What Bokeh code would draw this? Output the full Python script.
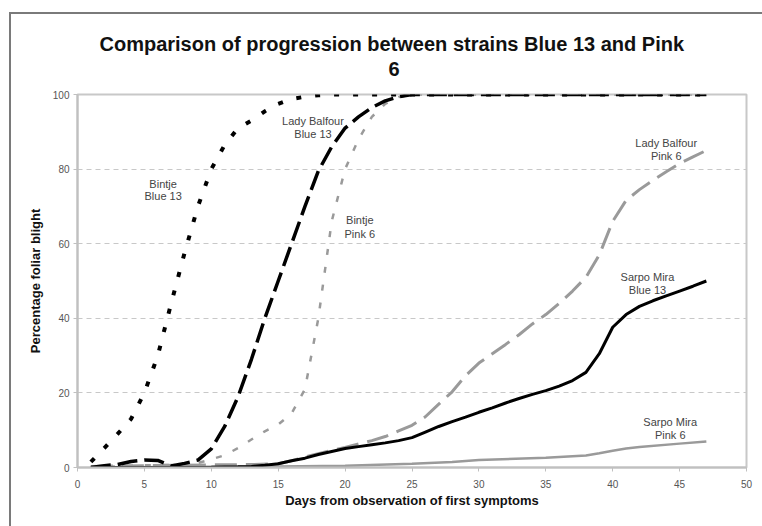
from bokeh.plotting import figure
from bokeh.models import Range1d, FixedTicker, ColumnDataSource
from bokeh.core.properties import value
from bokeh.embed import file_html
from bokeh.resources import INLINE

# ---------------- data ----------------
bintje_b13_days = [1, 2, 3, 4, 5, 6, 7, 8, 9, 10, 11, 12, 13, 14, 15, 16, 17, 18, 19, 20, 25, 30, 35, 40, 47]
bintje_b13_vals = [1.5, 5.2, 9, 13, 20, 30, 44, 57.5, 70, 80, 86.5, 91, 93, 95.5, 97.5, 98.8, 99.4, 99.8, 100, 100, 100, 100, 100, 100, 100]

lady_b13_days = [1, 2, 3, 4, 5, 6, 7, 8, 9, 10, 11, 12, 13, 14, 15, 16, 17, 18, 19, 20, 21, 22, 23, 24, 25, 30, 35, 40, 47]
lady_b13_vals = [0, 0.5, 0.8, 1.6, 2, 1.9, 0.4, 1.1, 2, 5, 11, 19, 29, 40, 50, 60, 70, 79.5, 86, 91, 94, 96.5, 98.3, 99.4, 100, 100, 100, 100, 100]

bintje_p6_days = [1, 2, 3, 4, 5, 6, 7, 8, 9, 10, 11, 12, 13, 14, 15, 16, 17, 18, 19, 20, 21, 22, 23, 24, 25, 30, 35, 40, 47]
bintje_p6_vals = [0, 0.2, 0.3, 0.5, 0.6, 0.6, 0.7, 0.8, 1.2, 2.2, 3.3, 5.2, 7.5, 9.7, 11.5, 14.5, 21, 40, 66, 80, 88, 94, 97.5, 99.3, 100, 100, 100, 100, 100]

lady_p6_days = [1, 5, 10, 13, 15, 16, 17, 18, 19, 20, 21, 22, 23, 24, 25, 26, 27, 28, 29, 30, 31, 32, 33, 34, 35,
                36, 37, 38, 39, 40, 41, 42, 43, 44, 45, 46, 47]
lady_p6_vals = [0.3, 0.5, 0.7, 0.8, 1, 1.8, 2.8, 3.7, 4.6, 5.4, 6.3, 7.2, 8.3, 9.8, 11.3, 13.6, 17, 20.3, 24.6, 28, 30.5,
                33, 35.6, 38.5, 41, 44, 47.3, 51, 57, 66, 71.6, 74.5, 77, 79.3, 81.5, 83.3, 85]

sarpo_b13_days = [1, 5, 10, 12, 13, 14, 15, 16, 17, 18, 19, 20, 21, 22, 23, 24, 25, 26, 27, 28, 29, 30, 31, 32, 33, 34,
                  35, 36, 37, 38, 39, 40, 41, 42, 43, 44, 45, 46, 47]
sarpo_b13_vals = [0, 0, 0.1, 0.2, 0.3, 0.6, 1, 1.8, 2.5, 3.5, 4.3, 5.1, 5.6, 6.1, 6.6, 7.2, 8, 9.5, 11, 12.3, 13.5, 14.8,
                  16, 17.3, 18.5, 19.6, 20.6, 21.8, 23.3, 25.5, 30.5, 37.6, 41, 43.2, 44.7, 46, 47.3, 48.6, 50]

sarpo_p6_days = [1, 10, 15, 20, 25, 28, 30, 35, 38, 39, 40, 41, 42, 45, 47]
sarpo_p6_vals = [0, 0.2, 0.3, 0.5, 1, 1.5, 2, 2.6, 3.2, 3.8, 4.5, 5.1, 5.5, 6.4, 7]

label_line1 = ["Bintje", "Lady Balfour", "Bintje", "Lady Balfour", "Sarpo Mira", "Sarpo Mira"]
label_line2 = ["Blue 13", "Blue 13", "Pink 6", "Pink 6", "Blue 13", "Pink 6"]
label_x = [6.4, 17.6, 21.1, 44.0, 42.6, 44.3]
label_y1 = [76.1, 92.8, 66.4, 87.1, 51.2, 12.1]
label_y2 = [72.7, 89.3, 62.6, 83.6, 47.5, 8.6]

x_ticks = [0, 5, 10, 15, 20, 25, 30, 35, 40, 45, 50]
y_ticks = [0, 20, 40, 60, 80, 100]

title_line1 = "Comparison of progression between strains Blue 13 and Pink"
title_line2 = "6"
x_title = "Days from observation of first symptoms"
y_title = "Percentage foliar blight"

FONT = "Liberation Sans"

# ---------------- figure ----------------
p = figure(width=751, height=512, output_backend="svg", toolbar_location=None,
           x_range=Range1d(0, 50), y_range=Range1d(0, 100),
           min_border_left=66, min_border_right=16, min_border_top=80, min_border_bottom=59)
# chart-area border (left and top visible, right/bottom fall outside the window)
p.styles = {"position": "absolute", "left": "11px", "top": "14px",
            "outline": "2px solid #7a7a7a"}

# second title line is centred under the first by non-breaking spaces
p.title.text = title_line1 + "\n" + "\u00a0" * 52 + title_line2
p.title.align = "left"
p.title.vertical_align = "middle"
p.title.offset = 22
p.title.standoff = 27
p.title.text_line_height = 1.15
p.title.text_font = FONT
p.title.text_font_size = "20px"
p.title.text_font_style = "bold"
p.title.text_color = "#111111"

p.background_fill_color = "white"
p.border_fill_color = "white"
p.outline_line_color = "#c8c8c8"
p.outline_line_width = 2

# grid
p.xgrid.grid_line_color = None
p.ygrid.grid_line_color = "#c8c8c8"
p.ygrid.grid_line_dash = "5 4"
p.ygrid.grid_line_width = 1
p.ygrid.ticker = FixedTicker(ticks=[20, 40, 60, 80])

for ax in (p.xaxis[0], p.yaxis[0]):
    ax.axis_line_color = "#c0c0c0"
    ax.axis_line_width = 2
    ax.major_tick_line_color = "#c0c0c0"
    ax.major_tick_line_width = 1
    ax.major_tick_in = 0
    ax.major_tick_out = 4
    ax.minor_tick_line_color = None
    ax.major_label_text_font = FONT
    ax.major_label_text_font_size = "10px"
    ax.major_label_text_color = "#555555"
    ax.axis_label_text_font = FONT
    ax.axis_label_text_font_size = "13px"
    ax.axis_label_text_font_style = "bold"
    ax.axis_label_text_color = "#111111"

p.xaxis.ticker = FixedTicker(ticks=x_ticks)
p.yaxis.ticker = FixedTicker(ticks=y_ticks)
p.xaxis.axis_label = x_title
p.yaxis.axis_label = y_title
p.xaxis.major_label_standoff = 8
p.xaxis.axis_label_standoff = 2
p.yaxis.major_label_standoff = 4
p.yaxis.axis_label_standoff = 7

# ---------------- series ----------------
GRAY = "#9a9a9a"
p.line(sarpo_p6_days, sarpo_p6_vals, line_color=GRAY, line_width=2.5)
p.line(lady_p6_days, lady_p6_vals, line_color=GRAY, line_width=3, line_dash="22 9")
p.line(bintje_p6_days, bintje_p6_vals, line_color=GRAY, line_width=2.5, line_dash="6 12")
p.line(sarpo_b13_days, sarpo_b13_vals, line_color="black", line_width=3)
p.line(lady_b13_days, lady_b13_vals, line_color="black", line_width=3.5, line_dash="20 7")
p.line(bintje_b13_days, bintje_b13_vals, line_color="black", line_width=4, line_dash="5 14")

src = ColumnDataSource(dict(x=label_x, y1=label_y1, y2=label_y2, t1=label_line1, t2=label_line2))
for ycol, tcol in (("y1", "t1"), ("y2", "t2")):
    p.text(x="x", y=ycol, text=tcol, source=src, text_font=value(FONT), text_font_size="11px",
           text_color="#444444", text_align="center", text_baseline="middle")

open("out.html", "w").write(file_html(p, INLINE))
